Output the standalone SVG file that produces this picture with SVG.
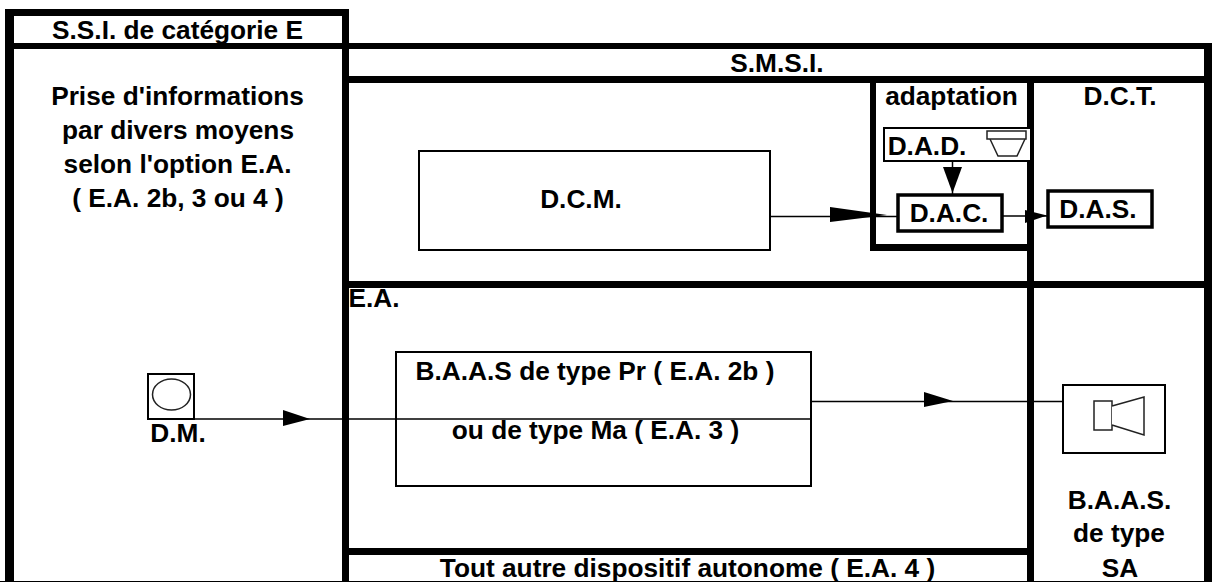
<svg xmlns="http://www.w3.org/2000/svg" width="1212" height="582" viewBox="0 0 1212 582">
<style>
text{font-family:"Liberation Sans",Arial,sans-serif;font-weight:bold;font-size:26.25px;fill:#000;text-anchor:middle}
.thick{fill:#000;stroke:none}
.box{fill:#fff;stroke:#000;stroke-width:2}
.open{fill:none;stroke:#000;stroke-width:2}
.med{fill:#fff;stroke:#000;stroke-width:3.5}
.thin{fill:none;stroke:#000;stroke-width:1.5}
.icon{fill:#fff;stroke:#222;stroke-width:1.5}
.head{fill:#000;stroke:none}
</style>
<rect width="1212" height="582" fill="#fff"/>
<g id="frames">
<rect class="thick" x="5" y="9" width="344" height="7"/>
<rect class="thick" x="5" y="9" width="9" height="573"/>
<rect class="thick" x="342" y="9" width="7" height="573"/>
<rect class="thick" x="5" y="43" width="1207" height="6"/>
<rect class="thick" x="342" y="76" width="870" height="7"/>
<rect class="thick" x="1204" y="43" width="8" height="539"/>
<rect class="thick" x="1027" y="76" width="7" height="506"/>
<rect class="thick" x="870" y="76" width="6" height="175"/>
<rect class="thick" x="870" y="244" width="164" height="7"/>
<rect class="thick" x="342" y="281" width="870" height="7"/>
<rect class="thick" x="342" y="548" width="692" height="7"/>
<rect class="thick" x="0" y="581" width="1212" height="1"/>
</g>
<g id="dcm"><rect class="box" x="419" y="151" width="351" height="99"/><text x="581" y="208">D.C.M.</text></g>
<g id="dad"><rect class="box" x="884" y="128" width="147" height="33"/><text x="927" y="155">D.A.D.</text>
<path class="icon" d="M990 139L998 156H1017L1025 139"/><rect class="icon" x="987" y="131" width="39" height="8"/></g>
<g id="dac"><rect class="med" x="898" y="195" width="104" height="36"/><text x="949" y="222">D.A.C.</text></g>
<g id="das"><rect class="med" x="1048" y="191" width="104" height="36"/><text x="1098" y="218">D.A.S.</text></g>
<g id="baas"><rect class="open" x="396" y="352" width="415" height="134"/><text x="595" y="380">B.A.A.S de type Pr ( E.A. 2b )</text><text x="595.500" y="439">ou de type Ma ( E.A. 3 )</text></g>
<g id="dm"><rect class="box" x="148" y="374" width="46" height="45"/><ellipse class="icon" cx="171.500" cy="394.500" rx="19" ry="15.500"/><text x="178" y="442">D.M.</text></g>
<g id="sa"><rect class="box" x="1063" y="385" width="102" height="68"/><rect class="icon" x="1094" y="401" width="18" height="29"/><path class="icon" d="M1112 406L1144 397V435L1112 425"/>
<text x="1119.500" y="509">B.A.A.S.</text><text x="1119" y="542">de type</text><text x="1120" y="577">SA</text></g>
<g id="connectors">
<path class="thin" d="M194 419H811"/>
<path class="head" d="M283 410L310 419L283 426Z"/>
<path class="thin" d="M811 401.500H1063"/>
<path class="head" d="M924 392L953 401L924 407Z"/>
<path class="thin" d="M771 216.500H898"/>
<path class="head" d="M830 207L887 215L830 222Z"/>
<path class="thin" d="M952.500 162V194"/>
<path class="head" d="M943 167H962L952.500 193Z"/>
<path class="thin" d="M1003 216H1048"/>
<path class="head" d="M1025 210L1047 215.500L1025 223Z"/>
</g>
<g id="ssi-title"><text x="177.500" y="39">S.S.I. de catégorie E</text></g>
<g id="prise"><text x="177.500" y="105">Prise d'informations</text><text x="178" y="139">par divers moyens</text><text x="177.500" y="173">selon l'option E.A.</text><text x="178" y="207">( E.A. 2b, 3 ou 4 )</text></g>
<g id="smsi"><text x="777" y="72">S.M.S.I.</text></g>
<g id="adaptation"><text x="951.500" y="105">adaptation</text></g>
<g id="dct"><text x="1120" y="105">D.C.T.</text></g>
<g id="ea"><text x="374" y="307">E.A.</text></g>
<g id="autre"><text x="687.500" y="577">Tout autre dispositif autonome ( E.A. 4 )</text></g>
</svg>
